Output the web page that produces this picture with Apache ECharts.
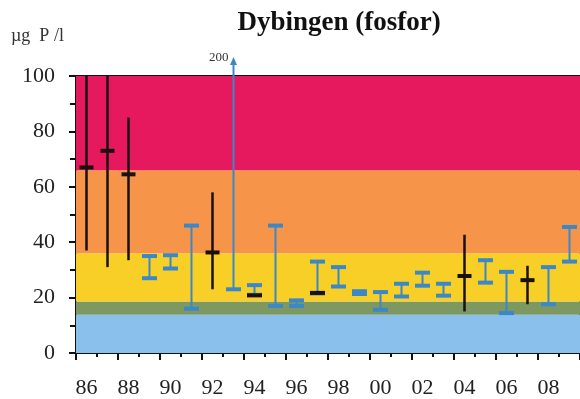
<!DOCTYPE html>
<html><head><meta charset="utf-8">
<script src="https://cdn.jsdelivr.net/npm/echarts@6/dist/echarts.min.js"></script>
<style>html,body{margin:0;padding:0;background:#fff}#c{width:580px;height:399px}</style>
</head><body><div id="c"></div>
<script>
// ---- data ----
const years = ['86','87','88','89','90','91','92','93','94','95','96','97','98','99','00','01','02','03','04','05','06','07','08','09'];
const bandLimits = [0, 13.8, 18.6, 36, 66, 100];
const bandColors = ['#8AC0EC', '#7E9862', '#F8CF26', '#F6954A', '#E6185E'];
const blueYears = ['89','90','91','93','94','95','96','97','98','99','00','01','02','03','05','06','08','09'];
const blueLow   = [27, 30.5, 16, 23, 21, 17, 17, 21.5, 24, 21.3, 15.6, 20.4, 24.3, 20.7, 25.4, 14.4, 17.6, 33];
const blueHigh  = [35, 35.3, 46, 200, 24.5, 46, 19, 33, 31, 22.3, 22, 25, 29, 25, 33.5, 29.3, 31, 45.5];
const blackYears = ['86','87','88','92','04','07'];
const blackLow   = [37, 31, 33.5, 23, 15, 17.6];
const blackHigh  = [110, 110, 85, 58, 42.7, 31.5];
const blackMean  = [67, 73, 64.5, 36.3, 27.8, 26.3];
const markYears  = ['94','97'];
const markValues = [20.8, 21.7];
const yTicks = [0, 20, 40, 60, 80, 100];

const yMin = yTicks[0], yMax = yTicks[yTicks.length - 1];
const SERIF = "'Liberation Serif','Times New Roman',serif";
const BLUE = '#3A88C8';

const chart = echarts.init(document.getElementById('c'), null, {renderer: 'canvas'});

function blueItem(params, api) {
  const x = api.value(0), lo = api.value(1), hi = api.value(2);
  const pLo = api.coord([x, lo]);
  const pTop = api.coord([x, Math.min(hi, yMax)]);
  const cw = 15, ch = 4;
  const children = [
    {type: 'line', shape: {x1: pLo[0], y1: pLo[1], x2: pTop[0], y2: pTop[1]}, style: {stroke: BLUE, lineWidth: 2}},
    {type: 'rect', shape: {x: pLo[0] - cw / 2, y: pLo[1] - ch / 2, width: cw, height: ch}, style: {fill: BLUE}}
  ];
  if (hi > yMax) {
    const tipY = pTop[1] - 19;
    children.push({type: 'line', shape: {x1: pTop[0], y1: pTop[1], x2: pTop[0], y2: tipY + 5}, style: {stroke: BLUE, lineWidth: 2}});
    children.push({type: 'polygon', shape: {points: [[pTop[0], tipY], [pTop[0] - 3.5, tipY + 8], [pTop[0] + 3.5, tipY + 8]]}, style: {fill: BLUE}});
    children.push({type: 'text', style: {text: String(hi), x: pTop[0] - 5, y: tipY + 1, align: 'right', verticalAlign: 'middle', font: '13px ' + SERIF, fill: '#333'}});
  } else {
    children.push({type: 'rect', shape: {x: pTop[0] - cw / 2, y: pTop[1] - ch / 2, width: cw, height: ch}, style: {fill: BLUE}});
  }
  return {type: 'group', children};
}

function blackItem(params, api) {
  const x = api.value(0), lo = api.value(1), hi = api.value(2), m = api.value(3);
  const pLo = api.coord([x, lo]);
  const pHi = api.coord([x, Math.min(hi, yMax)]);
  const pM = api.coord([x, m]);
  return {type: 'group', children: [
    {type: 'line', shape: {x1: pLo[0], y1: pLo[1], x2: pHi[0], y2: pHi[1]}, style: {stroke: '#1a1010', lineWidth: 2.5}},
    {type: 'rect', shape: {x: pM[0] - 7, y: pM[1] - 2, width: 14, height: 4}, style: {fill: '#1a1010'}}
  ]};
}

function markItem(params, api) {
  const p = api.coord([api.value(0), api.value(1)]);
  return {type: 'rect', shape: {x: p[0] - 7.5, y: p[1] - 2, width: 15, height: 4}, style: {fill: '#1a1010'}};
}

const bandAreas = bandColors.map((c, i) => [
  {yAxis: bandLimits[i], itemStyle: {color: c}},
  {yAxis: bandLimits[i + 1]}
]);

chart.setOption({
  animation: false,
  backgroundColor: '#fff',
  title: {
    text: 'Dybingen (fosfor)', left: 334, top: 5, textAlign: 'center',
    textStyle: {fontFamily: SERIF, fontWeight: 'bold', fontSize: 27, color: '#111'}
  },
  graphic: [{type: 'text', left: 11, top: 27, style: {text: 'µg  P /l', font: '18px ' + SERIF, fill: '#333'}}],
  grid: {left: 76, top: 76, right: -6, bottom: 44, show: true, borderColor: '#111', borderWidth: 2, backgroundColor: 'transparent'},
  xAxis: [{
    type: 'category', data: years, boundaryGap: true,
    axisLine: {lineStyle: {color: '#111', width: 2}},
    axisTick: {show: true, interval: 0, length: 4, lineStyle: {color: '#111', width: 2}},
    axisLabel: {interval: 1, margin: 24, fontFamily: SERIF, fontSize: 22, color: '#222'},
    splitLine: {show: false}
  }, {
    type: 'category', data: years, boundaryGap: true, position: 'bottom',
    axisLine: {show: false},
    axisTick: {show: true, interval: 1, length: 7, lineStyle: {color: '#111', width: 2}},
    axisLabel: {show: false}, splitLine: {show: false}
  }],
  yAxis: {
    type: 'value', min: yMin, max: yMax, interval: 20,
    axisLine: {show: true, lineStyle: {color: '#111', width: 2}},
    axisTick: {show: true, length: 7, lineStyle: {color: '#111', width: 2}},
    minorTick: {show: true, splitNumber: 2, length: 6, lineStyle: {color: '#111', width: 2}},
    axisLabel: {margin: 21, fontFamily: SERIF, fontSize: 22, color: '#222'},
    splitLine: {show: false}
  },
  series: [
    {type: 'line', data: [], markArea: {silent: true, data: bandAreas}, z: 1},
    {type: 'custom', renderItem: blueItem, clip: false, z: 5,
      data: blueYears.map((y, i) => [years.indexOf(y), blueLow[i], blueHigh[i]])},
    {type: 'custom', renderItem: blackItem, clip: false, z: 6,
      data: blackYears.map((y, i) => [years.indexOf(y), blackLow[i], blackHigh[i], blackMean[i]])},
    {type: 'custom', renderItem: markItem, clip: false, z: 7,
      data: markYears.map((y, i) => [years.indexOf(y), markValues[i]])}
  ]
});
</script></body></html>
